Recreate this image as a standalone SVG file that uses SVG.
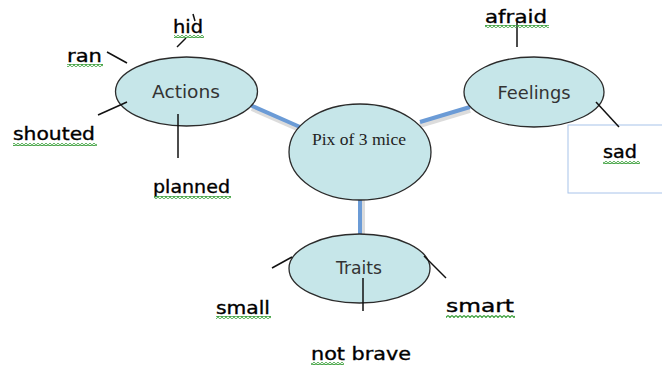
<svg xmlns="http://www.w3.org/2000/svg" width="662" height="368" viewBox="0 0 662 368">
  <defs>
    <pattern id="squiggle" patternUnits="userSpaceOnUse" width="4" height="3">
      <polyline points="0,0.5 2,2.5 4,0.5" fill="none" stroke="#3a9f3a" stroke-width="1.2"/>
    </pattern>
  </defs>
  <style>
    .bubble { fill: #c6e6e9; stroke: #2b2b2b; stroke-width: 1.3; }
    .link { stroke: #6b9bd6; stroke-width: 4; fill: none; }
    .link-shadow { stroke: #b9b9b9; stroke-width: 6; fill: none; opacity: 0.5; }
    .tick { stroke: #111; stroke-width: 1.5; fill: none; }
    .topic { font-family: "DejaVu Sans", "Liberation Sans", sans-serif; font-size: 17px; fill: #333; text-anchor: middle; }
    .hub { font-family: "Liberation Serif", serif; font-size: 16px; fill: #222; text-anchor: middle; }
    .word { font-family: "DejaVu Sans", "Liberation Sans", sans-serif; font-size: 18px; fill: #000; stroke: #000; stroke-width: 0.35; }
    .wavy { fill: url(#squiggle); }
  </style>
  <rect width="662" height="368" fill="#ffffff"/>

  <!-- thick blue connectors from the hub -->
  <g id="connectors">
    <line class="link-shadow" x1="252" y1="108" x2="302" y2="130"/>
    <line class="link-shadow" x1="420" y1="125" x2="470" y2="110"/>
    <line class="link-shadow" x1="362" y1="200" x2="362" y2="235"/>
    <line class="link" x1="250" y1="105" x2="300" y2="127"/>
    <line class="link" x1="420" y1="122" x2="470" y2="107"/>
    <line class="link" x1="360" y1="198" x2="360" y2="235"/>
  </g>

  <g id="hub">
    <ellipse class="bubble" cx="360" cy="152" rx="71" ry="48"/>
    <text class="hub" x="359" y="145" textLength="94" lengthAdjust="spacingAndGlyphs">Pix of 3 mice</text>
  </g>

  <g id="actions">
    <ellipse class="bubble" cx="186.5" cy="91.5" rx="71" ry="34.5"/>
    <text class="topic" x="186" y="98" textLength="68" lengthAdjust="spacingAndGlyphs">Actions</text>
  </g>

  <g id="feelings">
    <ellipse class="bubble" cx="534" cy="92" rx="70" ry="35"/>
    <text class="topic" x="534" y="99" textLength="73" lengthAdjust="spacingAndGlyphs">Feelings</text>
  </g>

  <g id="traits">
    <ellipse class="bubble" cx="359.5" cy="268.5" rx="70.5" ry="34.5"/>
    <text class="topic" x="359" y="274" textLength="46" lengthAdjust="spacingAndGlyphs">Traits</text>
  </g>

  <!-- box behind "sad" -->
  <rect x="568" y="125" width="100" height="68" fill="none" stroke="#a8c3ea" stroke-width="1"/>

  <!-- short black strokes linking words to bubbles -->
  <g id="ticks">
    <line class="tick" x1="177" y1="47" x2="186" y2="38"/>
    <line class="tick" x1="193" y1="14" x2="195" y2="21"/>
    <line class="tick" x1="107" y1="52" x2="127" y2="63"/>
    <line class="tick" x1="98" y1="115" x2="127" y2="102"/>
    <line class="tick" x1="178" y1="114" x2="178" y2="158"/>
    <line class="tick" x1="517" y1="22" x2="517" y2="47"/>
    <line class="tick" x1="596" y1="102" x2="619" y2="127"/>
    <line class="tick" x1="272" y1="268" x2="292" y2="257"/>
    <line class="tick" x1="424" y1="256" x2="446" y2="278"/>
    <line class="tick" x1="363" y1="278" x2="363" y2="311"/>
  </g>

  <!-- word labels with wavy underlines -->
  <g id="word-hid">
    <text class="word" x="173" y="33" textLength="30" lengthAdjust="spacingAndGlyphs">hid</text>
    <rect class="wavy" x="174" y="35" width="30" height="3"/>
  </g>
  <g id="word-ran">
    <text class="word" x="67" y="62" textLength="35" lengthAdjust="spacingAndGlyphs">ran</text>
    <rect class="wavy" x="67" y="64" width="36" height="3"/>
  </g>
  <g id="word-shouted">
    <text class="word" x="13" y="140" textLength="82" lengthAdjust="spacingAndGlyphs">shouted</text>
    <rect class="wavy" x="13" y="143" width="84" height="3"/>
  </g>
  <g id="word-planned">
    <text class="word" x="153" y="193" textLength="77" lengthAdjust="spacingAndGlyphs">planned</text>
    <rect class="wavy" x="154" y="196" width="77" height="3"/>
  </g>
  <g id="word-afraid">
    <text class="word" x="485" y="23" textLength="62" lengthAdjust="spacingAndGlyphs">afraid</text>
    <rect class="wavy" x="485" y="25" width="64" height="3"/>
  </g>
  <g id="word-sad">
    <text class="word" x="603" y="158" textLength="34" lengthAdjust="spacingAndGlyphs">sad</text>
    <rect class="wavy" x="603" y="161" width="37" height="3"/>
  </g>
  <g id="word-small">
    <text class="word" x="216" y="314" textLength="54" lengthAdjust="spacingAndGlyphs">small</text>
    <rect class="wavy" x="216" y="316" width="55" height="3"/>
  </g>
  <g id="word-smart">
    <text class="word" x="446" y="312" textLength="68" lengthAdjust="spacingAndGlyphs">smart</text>
    <rect class="wavy" x="446" y="315" width="69" height="3"/>
  </g>
  <g id="word-not-brave">
    <text class="word" x="311" y="360" textLength="100" lengthAdjust="spacingAndGlyphs">not brave</text>
    <rect class="wavy" x="311" y="362" width="33" height="3"/>
  </g>
</svg>
